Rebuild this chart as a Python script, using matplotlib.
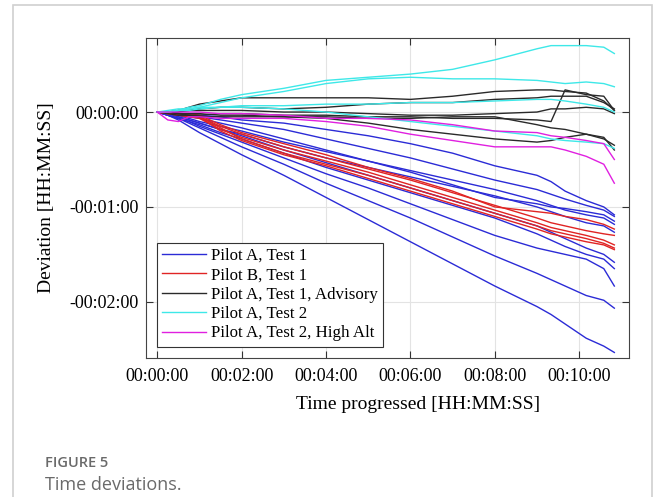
import matplotlib.pyplot as plt
from matplotlib.patches import Rectangle
from matplotlib.ticker import FuncFormatter, FixedLocator

# time grid in seconds (shared by every trace)
t_s = [0, 15, 30, 45, 60, 90, 120, 180, 240, 300, 360, 420, 480, 540, 560, 580, 610, 635, 650]

# deviation in seconds, Pilot A, Test 1
pilot_a_test1 = [
    [0, -1, -1, -2, -2, -3, -5, -7, -11, -15, -20, -26, -34, -40, -44, -50, -56, -60, -65],
    [0, -1, -2, -3, -3, -5, -7, -11, -17, -23, -29, -36, -43, -49, -52, -55, -59, -62, -66],
    [0, -1, -2, -3, -4, -7, -10, -17, -24, -31, -38, -46, -54, -58, -60, -61, -63, -65, -69],
    [0, -1, -2, -4, -6, -9, -12, -19, -25, -31, -37, -43, -49, -56, -59, -62, -65, -67, -71],
    [0, -1, -3, -5, -7, -11, -14, -22, -29, -35, -41, -47, -53, -60, -63, -66, -70, -72, -76],
    [0, -1, -3, -5, -7, -11, -15, -24, -32, -40, -48, -56, -64, -72, -76, -80, -86, -90, -95],
    [0, -2, -4, -6, -8, -13, -17, -26, -35, -43, -51, -59, -67, -77, -81, -85, -90, -93, -99],
    [0, -2, -4, -6, -9, -14, -19, -29, -39, -48, -58, -68, -78, -86, -88, -90, -93, -99, -110],
    [0, -2, -4, -7, -10, -16, -22, -33, -45, -56, -67, -79, -91, -102, -106, -110, -116, -119, -124],
    [0, -2, -5, -9, -13, -20, -27, -40, -54, -68, -82, -96, -110, -123, -128, -134, -143, -148, -152],
]

# Pilot B, Test 1
pilot_b_test1 = [
    [0, 0, -1, -1, -2, -8, -13, -20, -27, -35, -42, -50, -60, -63, -64, -66, -68, -71, -74],
    [0, -1, -1, -2, -3, -9, -14, -22, -29, -36, -43, -51, -59, -67, -70, -72, -75, -77, -78],
    [0, -1, -2, -3, -4, -11, -16, -24, -31, -38, -46, -54, -62, -70, -73, -75, -78, -81, -84],
    [0, -1, -2, -2, -3, -10, -17, -26, -33, -40, -48, -56, -64, -72, -75, -77, -80, -83, -86],
    [0, 0, -1, -2, -3, -12, -18, -27, -34, -42, -50, -58, -66, -74, -77, -79, -82, -84, -87],
]

# Pilot A, Test 1, Advisory
pilot_a_advisory = [
    [0, 0, 1, 3, 5, 7, 9, 9, 9, 9, 8, 10, 13, 14, 14, 13, 12, 7, 1],
    [0, 0, 1, 1, 2, 3, 3, 2, 3, 5, 6, 6, 8, 9, 10, 10, 10, 6, 2],
    [0, 0, 0, 1, 1, 1, 1, 0, 0, -1, -2, -2, -1, 0, 2, 2, 3, 2, -1],
    [0, -1, -2, -2, -2, -1, -1, -2, -2, -3, -3, -4, -4, -5, -6, 14, 11, 10, 1],
    [0, 0, -1, -1, -1, -2, -2, -3, -4, -7, -11, -14, -17, -19, -18, -16, -14, -16, -24],
    [0, 0, -1, -2, -3, -3, -3, -3, -3, -4, -4, -3, -3, -8, -10, -11, -14, -17, -21],
]

# Pilot A, Test 2
pilot_a_test2 = [
    [0, 0, 1, 3, 4, 8, 11, 15, 20, 22, 24, 27, 33, 40, 42, 42, 42, 41, 37],
    [0, 0, 1, 2, 3, 6, 9, 13, 18, 21, 22, 21, 21, 20, 19, 18, 19, 18, 16],
    [0, 0, 1, 1, 2, 3, 4, 4, 5, 5, 6, 6, 7, 8, 8, 7, 5, 3, 0],
    [0, 1, 2, 2, 3, 3, 3, 2, 0, -3, -6, -9, -12, -15, -17, -18, -19, -20, -23],
]

# Pilot A, Test 2, High Alt
pilot_a_high_alt = [
    [0, 0, 0, 0, 0, -1, -1, -2, -4, -4, -5, -8, -12, -13, -15, -16, -18, -20, -30],
    [0, -5, -6, -3, -3, -4, -4, -4, -6, -9, -14, -18, -22, -22, -22, -24, -28, -33, -45],
]

groups = [
    ('Pilot A, Test 1', '#2b2bd6', pilot_a_test1),
    ('Pilot B, Test 1', '#e02424', pilot_b_test1),
    ('Pilot A, Test 1, Advisory', '#2a2a2a', pilot_a_advisory),
    ('Pilot A, Test 2', '#3ee8e8', pilot_a_test2),
    ('Pilot A, Test 2, High Alt', '#e020e0', pilot_a_high_alt),
]


def hms(v, pos=None):
    sign = '-' if v < 0 else ''
    v = int(round(abs(v)))
    return f"{sign}{v // 3600:02d}:{(v % 3600) // 60:02d}:{v % 60:02d}"


plt.rcParams['font.family'] = ['Liberation Serif', 'DejaVu Serif']

fig = plt.figure(figsize=(6.56, 4.97), dpi=100)
fig.patches.append(Rectangle((13 / 656, -0.1), (652 - 13) / 656, 1.1 - 5 / 497,
                             transform=fig.transFigure, fill=False,
                             edgecolor='#d0d0d0', linewidth=1.2))

ax = fig.add_axes([0.222, 0.2797, 0.737, 0.6438])

for label, color, traces in groups:
    for i, dev in enumerate(traces):
        ax.plot(t_s, dev, color=color, linewidth=1.0,
                label=label if i == 0 else None)

ax.set_xlim(-16.5, 671)
ax.set_ylim(-155.5, 46.8)
ax.xaxis.set_major_locator(FixedLocator([0, 120, 240, 360, 480, 600]))
ax.yaxis.set_major_locator(FixedLocator([-120, -60, 0]))
ax.xaxis.set_major_formatter(FuncFormatter(hms))
ax.yaxis.set_major_formatter(FuncFormatter(hms))
ax.tick_params(direction='in', top=True, right=True, labelsize=13,
               length=5, width=0.8, color='#333333')
ax.tick_params(axis='x', pad=7)
ax.tick_params(axis='y', pad=5)
ax.grid(True, color='#e3e3e3', linewidth=0.8)
ax.set_axisbelow(True)
for s in ax.spines.values():
    s.set_color('#444444')
    s.set_linewidth(0.8)

ax.set_xlabel('Time progressed [HH:MM:SS]', fontsize=14)
ax.xaxis.set_label_coords(0.563, -0.118)
ax.set_ylabel('Deviation [HH:MM:SS]', fontsize=14)
ax.yaxis.set_label_coords(-0.187, 0.5)

leg = ax.legend(loc='upper left', bbox_to_anchor=(0.024, 0.36), borderaxespad=0,
                fontsize=12.2, fancybox=False, framealpha=1, edgecolor='#333333',
                handlelength=2.6, handletextpad=0.3, labelspacing=0.2,
                borderpad=0.3)
leg.get_frame().set_linewidth(0.8)

fig.text(45 / 656, 1 - 463 / 497, 'FIGURE 5', family='Open Sans', fontsize=10.5,
         fontweight='semibold', color='#6a6a6a', va='center', ha='left')
fig.text(45 / 656, 1 - 485 / 497, 'Time deviations.', family='Open Sans', fontsize=13,
         color='#6a6a6a', va='center', ha='left')

fig.savefig('out.png', dpi=100)
